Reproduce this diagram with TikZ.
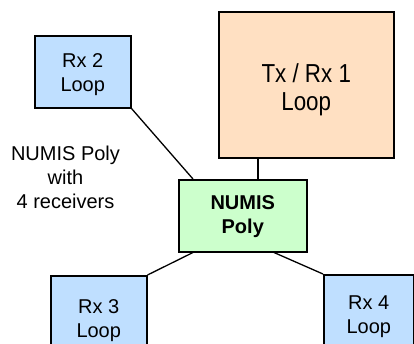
\documentclass[tikz,border=0pt]{standalone}
\usepackage{fontspec}
\setmainfont{Liberation Sans}
\usetikzlibrary{calc}
\definecolor{rxblue}{HTML}{BFDFFF}
\definecolor{txpeach}{HTML}{FFE0C2}
\definecolor{polygreen}{HTML}{CCFFCC}
\tikzset{
  box/.style={draw=black, line width=1.5pt, inner sep=0pt, anchor=north west, align=center,
    font=\fontsize{20}{24}\selectfont},
  rxbox/.style={box, fill=rxblue},
  wire/.style={draw=black, line width=1.3pt},
}
\newcommand{\narrowtext}[1]{\scalebox{0.86}[1]{#1}}
\begin{document}
\begin{tikzpicture}[x=1pt,y=-1pt]
\useasboundingbox (0,0) rectangle (414,343);
\clip (0,0) rectangle (414,343);
\node[box, fill=txpeach, minimum width=175pt, minimum height=146pt,
  font=\fontsize{26}{28}\selectfont] (tx) at (218,11)
  {\rule{0pt}{29pt}\narrowtext{Tx / Rx 1}\\\narrowtext{Loop}};
\node[rxbox, minimum width=96pt, minimum height=72pt] (rx2) at (34,35)
  {\rule{0pt}{20.3pt}Rx 2\\Loop};
\node[box, fill=polygreen, minimum width=128pt, minimum height=72pt,
  font=\bfseries\fontsize{20}{24}\selectfont] (poly) at (178,179)
  {\rule{0pt}{15.5pt}NUMIS\\Poly};
\node[rxbox, minimum width=96pt, minimum height=90.5pt] (rx3) at (50,275)
  {Rx 3\\Loop};
\node[rxbox, minimum width=90pt, minimum height=84.5pt] (rx4) at (323,274)
  {Rx 4\\Loop};
\node[inner sep=0pt, anchor=north, align=center, font=\fontsize{20}{24}\selectfont]
  (note) at (65.5,146) {NUMIS Poly\\with\\4 receivers};
\draw[wire] (rx2.south east) -- ($(poly.north west)+(15,0)$);
\draw[wire] ($(tx.south west)+(40,0)$) -- ($(poly.north west)+(80,0)$);
\draw[wire] (rx3.north east) -- ($(poly.south west)+(15,0)$);
\draw[wire] ($(poly.south west)+(96,0)$) -- (rx4.north west);
\end{tikzpicture}
\end{document}
